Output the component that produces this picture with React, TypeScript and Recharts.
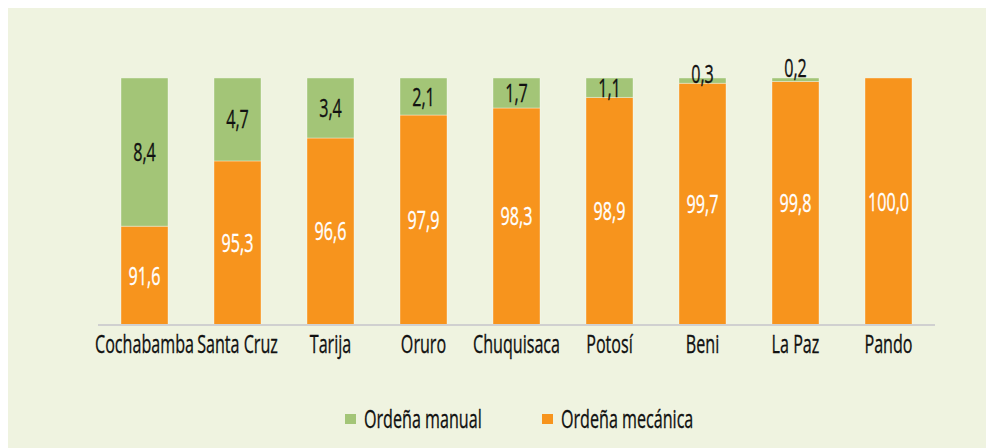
import { BarChart, Bar, XAxis, YAxis, Legend, LabelList } from 'recharts';

const departamentos = ['Cochabamba', 'Santa Cruz', 'Tarija', 'Oruro', 'Chuquisaca', 'Potosí', 'Beni', 'La Paz', 'Pando'];
const mecanica = [91.6, 95.3, 96.6, 97.9, 98.3, 98.9, 99.7, 99.8, 100.0];
const manual = [8.4, 4.7, 3.4, 2.1, 1.7, 1.1, 0.3, 0.2, 0.0];

const series = [
  { key: 'manual', name: 'Ordeña manual', color: '#a3c577' },
  { key: 'mecanica', name: 'Ordeña mecánica', color: '#f7941d' },
];

const data = departamentos.map((d, i) => ({ name: d, mecanica: mecanica[i], manual: manual[i] }));

const FONT = '"Open Sans", "Noto Sans", sans-serif';
const SQUEEZE = 0.62; // fake a condensed face
const fmt = (v: number) => v.toFixed(1).replace('.', ',');

// text squeezed horizontally around its anchor point
const Condensed = ({ x, y, fill, anchor = 'middle', size = 26, children }: any) => (
  <text
    transform={`translate(${x},${y}) scale(${SQUEEZE},1)`}
    fill={fill}
    fontSize={size}
    fontFamily={FONT}
    textAnchor={anchor}
    stroke={fill}
    strokeWidth={0.35}
  >
    {children}
  </text>
);

const makeLabel = (fill: string) => (props: any) => {
  const { x, y, width, height, value } = props;
  if (!value) return null;
  // tiny segments: the label sits above the sliver
  const shift = Math.max(0, 21 - 2.67 * height);
  return (
    <Condensed x={x + width / 2} y={y + height / 2 - shift + 9} fill={fill}>
      {fmt(value)}
    </Condensed>
  );
};

const Tick = (props: any) => {
  const { x, y, payload } = props;
  return (
    <Condensed x={x} y={y + 20} fill="#111">
      {payload.value}
    </Condensed>
  );
};

const LegendContent = () => (
  <svg width={986} height={40} style={{ display: 'block', overflow: 'visible' }}>
    <rect x={337} y={16} width={11} height={10} fill={series[0].color} />
    <Condensed x={356} y={30} fill="#111" anchor="start">{series[0].name}</Condensed>
    <rect x={534} y={16} width={11} height={10} fill={series[1].color} />
    <Condensed x={553} y={30} fill="#111" anchor="start">{series[1].name}</Condensed>
  </svg>
);

export default function App() {
  return (
    <div style={{ width: 986, height: 440, background: '#eff3e0' }}>
      <BarChart width={986} height={440} data={data} margin={{ top: 70, right: 59, left: 90, bottom: 33 }}>
        <XAxis
          dataKey="name"
          axisLine={{ stroke: '#d0d0d0', strokeWidth: 2 }}
          tickLine={false}
          tick={<Tick />}
          interval={0}
          height={50}
        />
        <YAxis hide domain={[86, 100]} allowDataOverflow />
        <Legend
          content={<LegendContent />}
          verticalAlign="bottom"
          wrapperStyle={{ top: 390, left: 0, width: 986, height: 40 }}
        />
        <Bar dataKey="mecanica" name="Ordeña mecánica" stackId="a" fill="#f7941d" stroke="rgba(255,255,255,0.35)" barSize={47} isAnimationActive={false}>
          <LabelList dataKey="mecanica" content={makeLabel('#ffffff')} />
        </Bar>
        <Bar dataKey="manual" name="Ordeña manual" stackId="a" fill="#a3c577" stroke="rgba(255,255,255,0.35)" barSize={47} isAnimationActive={false}>
          <LabelList dataKey="manual" content={makeLabel('#111111')} />
        </Bar>
      </BarChart>
    </div>
  );
}
